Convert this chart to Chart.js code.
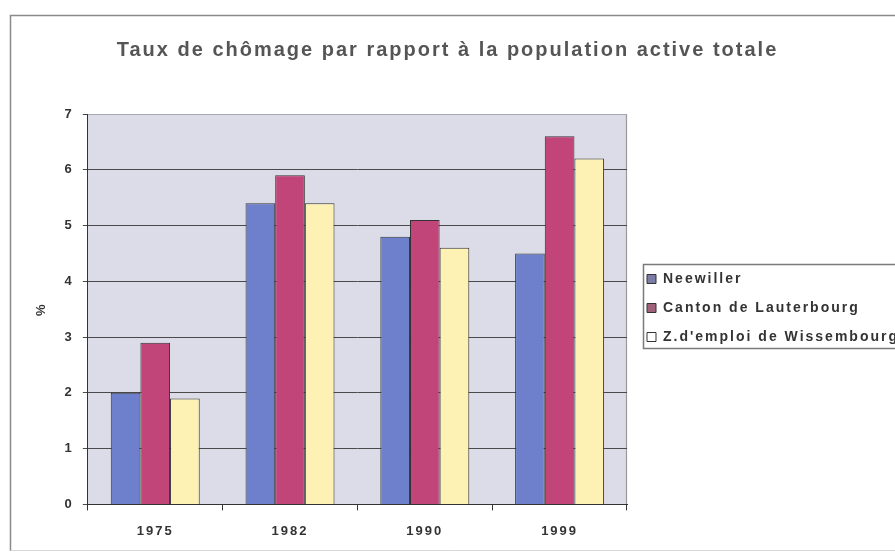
<!DOCTYPE html>
<html>
<head>
<meta charset="utf-8">
<script src="https://cdn.jsdelivr.net/npm/chart.js@4/dist/chart.umd.min.js"></script>
<style>
  html, body { margin: 0; padding: 0; background: #ffffff; overflow: hidden; }
  canvas { display: block; }
</style>
</head>
<body>
<canvas id="chart" width="895" height="556"></canvas>
<script>
// Unemployment rate (% of total working population)
const years = ['1975', '1982', '1990', '1999'];
const neewiller = [2.0, 5.4, 4.8, 4.5];
const cantonLauterbourg = [2.9, 5.9, 5.1, 6.6];
const zoneWissembourg = [1.9, 5.4, 4.6, 6.2];
const seriesNames = ['Neewiller', 'Canton de Lauterbourg', "Z.d'emploi de Wissembourg"];
const yMin = 0;
const yMax = 7;
const yStep = 1;

const FONT = "'Liberation Sans', Arial, sans-serif";
const barColors = ['#6e7fcc', '#c2457a', '#fdf2b4'];
const swatchColors = ['#7c7ca6', '#a0627a', '#ffffff'];
const LEGEND_WIDTH = 268;

// Canvas text in this chart is slightly letter-spaced
const letterSpacing = {
  id: 'letterSpacing',
  beforeUpdate(chart) { chart.ctx.letterSpacing = '2px'; },
  beforeDraw(chart) { chart.ctx.letterSpacing = '2px'; }
};

// White page, outer frame and grey plot area
const frameAndPlot = {
  id: 'frameAndPlot',
  beforeDraw(chart) {
    const { ctx, chartArea: a } = chart;
    ctx.save();
    ctx.fillStyle = '#ffffff';
    ctx.fillRect(0, 0, chart.width, chart.height);
    ctx.strokeStyle = '#8a8a8a';
    ctx.lineWidth = 1.5;
    ctx.beginPath();
    ctx.moveTo(10.5, 551);
    ctx.lineTo(10.5, 15.5);
    ctx.lineTo(chart.width, 15.5);
    ctx.stroke();
    ctx.strokeStyle = '#d8d8d8';
    ctx.lineWidth = 1;
    ctx.beginPath();
    ctx.moveTo(10.5, 550.5);
    ctx.lineTo(chart.width, 550.5);
    ctx.stroke();
    ctx.fillStyle = '#dcdce9';
    ctx.fillRect(a.left, a.top, a.right - a.left, a.bottom - a.top);
    ctx.strokeStyle = '#9a9a9a';
    ctx.lineWidth = 1.2;
    ctx.beginPath();
    ctx.moveTo(a.left, a.top + 0.5);
    ctx.lineTo(a.right - 0.5, a.top + 0.5);
    ctx.lineTo(a.right - 0.5, a.bottom);
    ctx.stroke();
    ctx.restore();
  }
};

// Legend: fixed width, placed in its own framed box; wider title tracking
const legendBox = {
  id: 'legendBox',
  afterInit(chart) {
    const lg = chart.legend;
    const fit = lg.fit;
    lg.fit = function () { fit.call(this); this.width = LEGEND_WIDTH; };
    const tb = chart.titleBlock;
    const drawTitle = tb.draw;
    tb.draw = function () {
      const ctx = this.ctx;
      ctx.save();
      ctx.letterSpacing = '2px';
      drawTitle.call(this);
      ctx.restore();
    };
  },
  afterLayout(chart) {
    const lg = chart.legend;
    const dx = 5;
    const h = lg.bottom - lg.top;
    lg.left += dx; lg.right += dx;
    lg.top = 257; lg.bottom = lg.top + h;
  },
  afterDraw(chart) {
    const ctx = chart.ctx;
    ctx.save();
    ctx.strokeStyle = '#7a7a7a';
    ctx.lineWidth = 1.5;
    ctx.strokeRect(643.5, 264.5, 270, 84);
    ctx.restore();
  }
};

new Chart(document.getElementById('chart'), {
  type: 'bar',
  data: {
    labels: years,
    datasets: [
      { label: seriesNames[0], data: neewiller, backgroundColor: barColors[0] },
      { label: seriesNames[1], data: cantonLauterbourg, backgroundColor: barColors[1] },
      { label: seriesNames[2], data: zoneWissembourg, backgroundColor: barColors[2] }
    ].map(d => Object.assign(d, {
      borderColor: '#333333',
      borderWidth: 1,
      categoryPercentage: 0.66,
      barPercentage: 1.0
    }))
  },
  options: {
    responsive: false,
    animation: false,
    devicePixelRatio: 1,
    layout: { padding: { left: 0, right: 0, top: 0, bottom: 4 } },
    plugins: {
      title: {
        display: true,
        text: 'Taux de chômage par rapport à la population active totale',
        color: '#555555',
        font: { family: FONT, size: 20, weight: 'bold' },
        padding: { top: 38, bottom: 52 }
      },
      legend: {
        position: 'right',
        align: 'start',
        labels: {
          color: '#333333',
          font: { family: FONT, size: 14, weight: 'bold' },
          boxWidth: 9,
          boxHeight: 9,
          padding: 15,
          generateLabels(chart) {
            const items = Chart.defaults.plugins.legend.labels.generateLabels(chart);
            items.forEach((it, i) => {
              it.fillStyle = swatchColors[i];
              it.strokeStyle = '#333333';
              it.lineWidth = 1;
            });
            return items;
          }
        }
      },
      tooltip: { enabled: false }
    },
    scales: {
      x: {
        grid: {
          display: true,
          drawOnChartArea: false,
          drawTicks: true,
          tickLength: 6,
          color: '#333333',
          offset: true
        },
        border: { display: true, color: '#333333', width: 1 },
        ticks: {
          color: '#333333',
          font: { family: FONT, size: 13, weight: 'bold' },
          padding: 13
        }
      },
      y: {
        min: yMin,
        max: yMax,
        ticks: {
          stepSize: yStep,
          color: '#333333',
          font: { family: FONT, size: 13, weight: 'bold' },
          padding: 9
        },
        grid: {
          color: ctx => (ctx.tick && ctx.tick.value === yMax ? '#a8a8b0' : '#4a4a4a'),
          tickColor: '#4a4a4a',
          tickLength: 5,
          lineWidth: 1
        },
        border: { display: true, color: '#333333', width: 1 },
        title: {
          display: true,
          text: '%',
          color: '#333333',
          font: { family: FONT, size: 13, weight: 'bold' },
          padding: { top: 34, bottom: 6 }
        }
      }
    }
  },
  plugins: [letterSpacing, frameAndPlot, legendBox]
});
</script>
</body>
</html>
